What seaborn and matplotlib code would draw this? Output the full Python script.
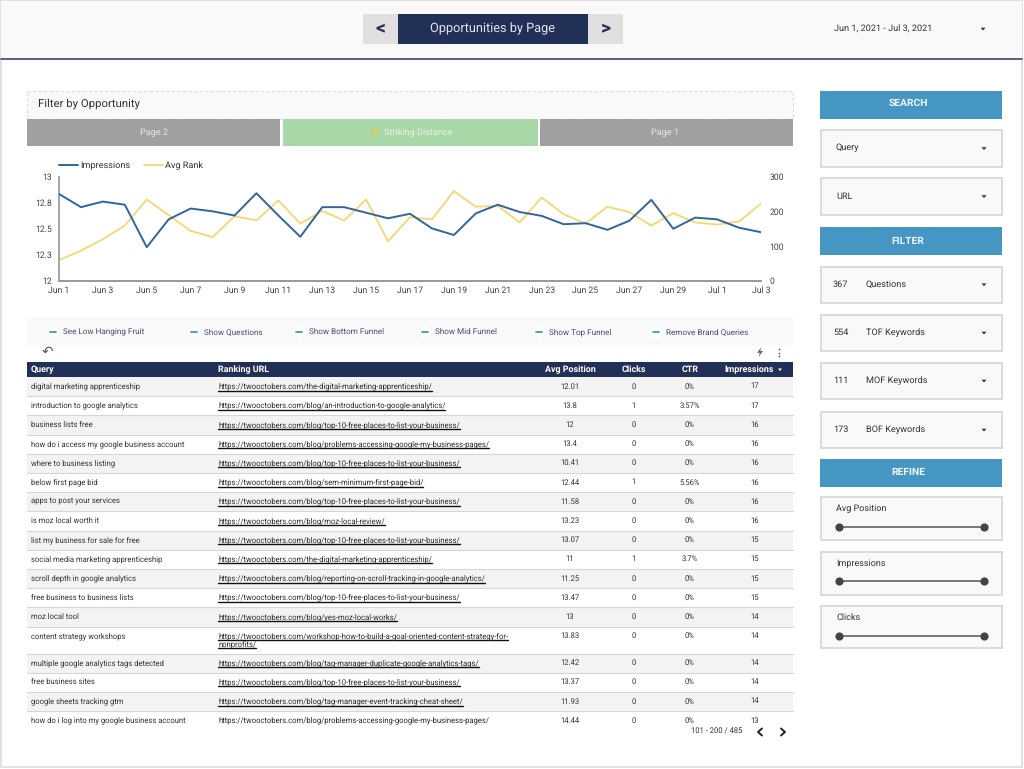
import pandas as pd
import matplotlib
matplotlib.use("Agg")
import matplotlib.pyplot as plt
from matplotlib.patches import Rectangle, Polygon
from matplotlib.lines import Line2D
import seaborn as sns

# chart values
dates = pd.date_range("2021-06-01", "2021-07-03")
impressions_daily = [250, 212, 228, 219, 97, 177, 208, 200, 188, 252, 188, 127, 212, 212, 196, 180, 193,
                     151, 132, 194, 219, 198, 187, 163, 166, 147, 173, 233, 150, 182, 177, 153, 140]
avg_rank_daily = [12.2, 12.29, 12.4, 12.53, 12.78, 12.63, 12.48, 12.42, 12.62, 12.58, 12.77, 12.55, 12.67,
                  12.58, 12.78, 12.38, 12.61, 12.59, 12.86, 12.71, 12.72, 12.56, 12.8, 12.64, 12.55, 12.71,
                  12.66, 12.53, 12.65, 12.56, 12.54, 12.57, 12.74]
rank_ticks = [12, 12.25, 12.5, 12.75, 13]
rank_tick_labels = ["12", "12.3", "12.5", "12.8", "13"]
impr_ticks = [0, 100, 200, 300]

# table
queries = ["digital marketing apprenticeship", "introduction to google analytics", "business lists free",
           "how do i access my google business account", "where to business listing", "below first page bid",
           "apps to post your services", "is moz local worth it", "list my business for sale for free",
           "social media marketing apprenticeship", "scroll depth in google analytics",
           "free business to business lists", "moz local tool", "content strategy workshops",
           "multiple google analytics tags detected", "free business sites", "google sheets tracking gtm",
           "how do i log into my google business account"]
urls = ["https://twooctobers.com/the-digital-marketing-apprenticeship/",
        "https://twooctobers.com/blog/an-introduction-to-google-analytics/",
        "https://twooctobers.com/blog/top-10-free-places-to-list-your-business/",
        "https://twooctobers.com/blog/problems-accessing-google-my-business-pages/",
        "https://twooctobers.com/blog/top-10-free-places-to-list-your-business/",
        "https://twooctobers.com/blog/sem-minimum-first-page-bid/",
        "https://twooctobers.com/blog/top-10-free-places-to-list-your-business/",
        "https://twooctobers.com/blog/moz-local-review/",
        "https://twooctobers.com/blog/top-10-free-places-to-list-your-business/",
        "https://twooctobers.com/the-digital-marketing-apprenticeship/",
        "https://twooctobers.com/blog/reporting-on-scroll-tracking-in-google-analytics/",
        "https://twooctobers.com/blog/top-10-free-places-to-list-your-business/",
        "https://twooctobers.com/blog/yes-moz-local-works/",
        "https://twooctobers.com/workshop-how-to-build-a-goal-oriented-content-strategy-for-\nnonprofits/",
        "https://twooctobers.com/blog/tag-manager-duplicate-google-analytics-tags/",
        "https://twooctobers.com/blog/top-10-free-places-to-list-your-business/",
        "https://twooctobers.com/blog/tag-manager-event-tracking-cheat-sheet/",
        "https://twooctobers.com/blog/problems-accessing-google-my-business-pages/"]
avg_position = ["12.01", "13.8", "12", "13.4", "10.41", "12.44", "11.58", "13.23", "13.07", "11", "11.25",
                "13.47", "13", "13.83", "12.42", "13.37", "11.93", "14.44"]
clicks = [0, 1, 0, 0, 0, 1, 0, 0, 0, 1, 0, 0, 0, 0, 0, 0, 0, 0]
ctr = ["0%", "3.57%", "0%", "0%", "0%", "5.56%", "0%", "0%", "0%", "3.7%", "0%", "0%", "0%", "0%", "0%", "0%", "0%", "0%"]
impressions = [17, 17, 16, 16, 16, 16, 16, 16, 15, 15, 15, 15, 14, 14, 14, 14, 14, 13]

chip_labels = ["See Low Hanging Fruit", "Show Questions", "Show Bottom Funnel", "Show Mid Funnel",
               "Show Top Funnel", "Remove Brand Queries"]
chip_x = [63, 204, 309, 435, 549, 666]

NAVY = "#222f57"
BLUE = "#4596c3"
PANEL = "#f9f9f9"
TEXT = "#333333"

sns.set_theme(style="white")
plt.rcParams["font.family"] = ["Roboto", "DejaVu Sans"]
plt.rcParams["text.hinting"] = "no_hinting"

fig = plt.figure(figsize=(10.24, 7.69), dpi=100, facecolor="white")

# background layer in pixel coordinates
bg = fig.add_axes([0, 0, 1, 1], zorder=0)
bg.set_xlim(0, 1024)
bg.set_ylim(769, 0)
bg.axis("off")


def box(x0, y0, x1, y1, color, edge="none", lw=0, **kw):
    bg.add_patch(Rectangle((x0, y0), x1 - x0, y1 - y0, facecolor=color, edgecolor=edge, linewidth=lw, **kw))


def label(x, y, s, size=5.5, color=TEXT, ha="left", **kw):
    # baseline anchored, so descenders do not shift the text
    return bg.text(x, y + size * 0.49 - 0.8, s, fontsize=size, color=color, ha=ha, va="baseline", **kw)


def caret(x, y):
    bg.add_patch(Polygon([(x - 2.5, y - 1.3), (x + 2.5, y - 1.3), (x, y + 1.5)], facecolor="#333333", edgecolor="none"))


def bolt(x, y, h, color):
    pts = [(0.15, -0.5), (-0.3, 0.08), (-0.02, 0.08), (-0.15, 0.5), (0.3, -0.1), (0.02, -0.1)]
    bg.add_patch(Polygon([(x + px * h, y + py * h) for px, py in pts], facecolor=color, edgecolor="none"))


# page frame and header
box(1, 0, 1022, 767, "white", edge="#dcdcdc", lw=1.2)
box(1, 1, 1022, 58, PANEL)
bg.plot([1, 1022], [58.5, 58.5], color="#3a4672", lw=1.2)
box(363, 14, 623, 44, "#e0e0e0")
box(398, 14, 588, 44, NAVY)
label(493, 29, "Opportunities by Page", size=9.2, color="#dfe3ee", ha="center")
label(380, 27, "<", size=14, color=NAVY, ha="center", fontweight="bold")
label(606, 27, ">", size=14, color=NAVY, ha="center", fontweight="bold")
label(834, 29, "Jun 1, 2021 - Jul 3, 2021", size=6.6)
caret(983, 29)

# filter strip
box(27, 91, 793, 119, PANEL, edge="#dddddd", lw=0.8, linestyle=(0, (3, 2)))
label(38, 103.5, "Filter by Opportunity", size=8.2)
box(27, 119, 280, 146, "#a0a0a0")
box(283, 119, 538, 146, "#a8d8a8")
box(540, 119, 793, 146, "#a0a0a0")
label(154, 132.5, "Page 2", size=6.6, color="#e6e6e6", ha="center")
bolt(375, 132, 12, "#f2c94c")
label(384, 132.5, "Striking Distance", size=6.6, color="#e8f5e8")
label(665, 132.5, "Page 1", size=6.6, color="#e6e6e6", ha="center")

# chips
box(27, 317, 793, 345, PANEL)
for x, s in zip(chip_x, chip_labels):
    bg.scatter([x - 10], [332], s=45, color="white", zorder=3)
    bg.plot([x - 13, x - 7], [332, 332], color=BLUE, lw=1.3, zorder=4)
    label(x, 332, s, size=5.9, color="#45506e")
label(47, 352, "\u21b6", size=10, color="#555555", ha="center", family="DejaVu Sans")
bolt(760, 352, 10, "#666666")
bg.scatter([779, 779, 779], [349, 352.5, 356], s=1.5, color="#555555", linewidths=0)

# table
box(27, 362, 793, 377, NAVY)
header_kw = dict(size=6.4, color="white", fontweight="bold")
label(31, 369.5, "Query", **header_kw)
label(218, 369.5, "Ranking URL", **header_kw)
label(570, 369.5, "Avg Position", ha="center", **header_kw)
label(634, 369.5, "Clicks", ha="center", **header_kw)
label(690, 369.5, "CTR", ha="center", **header_kw)
label(749, 369.5, "Impressions", ha="center", **header_kw)
bg.add_patch(Polygon([(778, 368.5), (782, 368.5), (780, 371)], facecolor="white", edgecolor="none"))

row_h = 19.2
y = 377
renderer = fig.canvas.get_renderer()
for i, q in enumerate(queries):
    wrapped = "\n" in urls[i]
    h = 27 if wrapped else row_h
    if i % 2 == 0:
        box(27, y, 793, y + h, "#f3f3f3")
    if i < len(queries) - 1:
        bg.plot([27, 793], [y + h, y + h], color="#d6d6d6", lw=0.8)
    yc = y + row_h / 2
    label(31, yc, q, size=5.5)
    for k, part in enumerate(urls[i].split("\n")):
        yu = yc + k * 8.2
        t = label(218, yu, part, size=5.5, color="#2a2a2a")
        if i < len(queries) - 1:
            width = t.get_window_extent(renderer).width
            bg.plot([218, 218 + width], [yu + 4, yu + 4], color="#111111", lw=1.0)
    label(570, yc, avg_position[i], ha="center")
    label(634, yc, str(clicks[i]), ha="center")
    label(690, yc, ctr[i], ha="center")
    label(755, yc, str(impressions[i]), ha="center")
    y += h

label(717, 732, "101 - 200 / 485", size=5.5, ha="center")
bg.plot([762, 758, 762], [728.5, 732, 735.5], color="#222222", lw=1.4)
bg.plot([781, 785, 781], [728.5, 732, 735.5], color="#222222", lw=1.4)

# right column
section_boxes = [("SEARCH", 91, 118.5, 103), ("FILTER", 227, 255, 241), ("REFINE", 459, 486.5, 472)]
for s, y0, y1, yt in section_boxes:
    box(820, y0, 1002, y1, BLUE)
    label(908, yt, s, size=7.4, color="#eef6fb", ha="center", fontweight="bold")

dropdowns = [("", "Query", 130, 167), ("", "URL", 178, 215), ("367", "Questions", 266.5, 303),
             ("554", "TOF Keywords", 315, 351), ("111", "MOF Keywords", 363, 399), ("173", "BOF Keywords", 412, 448)]
for num, s, y0, y1 in dropdowns:
    box(820.5, y0, 1001.5, y1, PANEL, edge="#d8d8d8", lw=1.3)
    yc = (y0 + y1) / 2 - 0.5
    if num:
        label(833, yc, num, size=6.6)
        label(866, yc, s, size=6.6)
    else:
        label(836, yc, s, size=6.6)
    caret(984, yc + 0.5)

sliders = [("Avg Position", 497, 539.5, 509, 527), ("Impressions", 552, 594.5, 564, 581), ("Clicks", 606, 648, 618, 636)]
for s, y0, y1, yt, ys in sliders:
    box(820.5, y0, 1001.5, y1, PANEL, edge="#d8d8d8", lw=1.3)
    label(836, yt, s, size=6.5)
    bg.plot([839, 984], [ys, ys], color="#555555", lw=1.1)
    bg.scatter([839, 984], [ys, ys], s=24, color="#444444", zorder=3)

# line chart
df = pd.DataFrame({"date": dates, "Impressions": impressions_daily, "Avg Rank": avg_rank_daily})
ax = fig.add_axes([59 / 1024, 1 - 281 / 769, 702 / 1024, 104.5 / 769], zorder=2)
ax.patch.set_alpha(0)
sns.lineplot(data=df, x="date", y="Avg Rank", color="#f6d76f", lw=1.3, ax=ax, legend=False)
ax2 = ax.twinx()
ax2.patch.set_alpha(0)
sns.lineplot(data=df, x="date", y="Impressions", color="#2f669f", lw=1.4, ax=ax2, legend=False)

ax.set_xlim(dates[0], dates[-1])
ax.set_ylim(12, 13)
ax2.set_ylim(0, 300)
ax.set_xticks(dates[::2])
ax.set_xticklabels([f"{d:%b} {d.day}" for d in dates[::2]])
ax.set_yticks(rank_ticks)
ax.set_yticklabels(rank_tick_labels)
ax2.set_yticks(impr_ticks)
ax.set_xlabel("")
ax.set_ylabel("")
ax2.set_xlabel("")
ax2.set_ylabel("")
ax.tick_params(axis="both", length=0, labelsize=6.2, labelcolor="#444444", pad=4)
ax.tick_params(axis="y", pad=5)
ax2.tick_params(axis="y", length=0, labelsize=6.2, labelcolor="#444444", pad=6)
for a in (ax, ax2):
    a.grid(False)
    a.spines["top"].set_visible(False)
    a.spines["right"].set_visible(False)
    a.spines["left"].set_visible(False)
    a.spines["bottom"].set_color("#999999")
ax.spines["left"].set_visible(True)
ax.spines["left"].set_color("#999999")

handles = [Line2D([], [], color="#2f669f", lw=1.4), Line2D([], [], color="#f6d76f", lw=1.3)]
ax.legend(handles, ["Impressions", "Avg Rank"], loc="lower left", bbox_to_anchor=(0, 1.06), ncol=2, frameon=False,
          fontsize=6.6, labelcolor="#333333", handlelength=2.1, handletextpad=0.2, columnspacing=1.5,
          borderpad=0, borderaxespad=0)

fig.savefig("out.png", dpi=100)
